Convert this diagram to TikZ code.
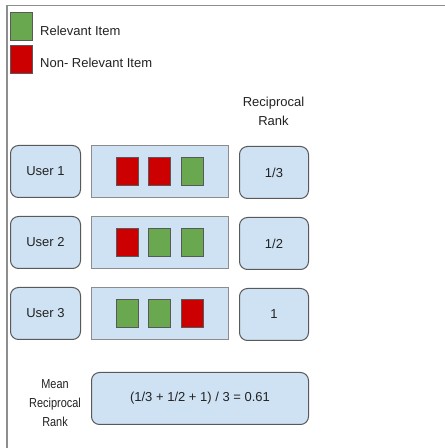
\documentclass[tikz,border=0pt]{standalone}
\usepackage{fontspec}
\setmainfont{Liberation Sans}
\definecolor{boxblue}{HTML}{CFE2F3}
\definecolor{relgreen}{HTML}{6AA84F}
\definecolor{nonred}{HTML}{CC0000}
\definecolor{edgegray}{HTML}{595959}
\definecolor{listgray}{HTML}{8C8C8C}
\definecolor{framegray}{HTML}{8E8E8E}
\definecolor{txt}{HTML}{222222}
\newcommand{\dfont}{\fontsize{13pt}{16pt}\selectfont}
\newcommand{\dfontb}{\fontsize{13pt}{19pt}\selectfont}
\begin{document}
\begin{tikzpicture}[x=1pt,y=1pt,
  userbox/.style={draw=edgegray, fill=boxblue, rounded corners=8pt, line width=1pt, minimum width=70pt, minimum height=52pt, inner sep=0pt, font=\dfont, text=txt},
  listbox/.style={draw=listgray, fill=boxblue, line width=1pt, minimum width=137pt, minimum height=52pt, inner sep=0pt},
  rankbox/.style={draw=edgegray, fill=boxblue, rounded corners=8pt, line width=1pt, minimum width=69pt, minimum height=52pt, inner sep=0pt, font=\dfont, text=txt},
  relbox/.style={draw=edgegray, fill=relgreen, line width=1pt, minimum width=22pt, minimum height=28pt, inner sep=0pt},
  nrelbox/.style={draw=edgegray, fill=nonred, line width=1pt, minimum width=22pt, minimum height=28pt, inner sep=0pt},
  lbl/.style={inner sep=0pt, font=\dfont, text=txt},
  multilbl/.style={align=center, inner sep=0pt, font=\dfontb, text=txt}
]
\useasboundingbox (0,0) rectangle (445,448);
\fill[white] (0,0) rectangle (445,448);
\draw[framegray, line width=1.5pt] (7,0) -- (7,442.5) -- (445,442.5);

% legend
\node[relbox] (lg) at (21.5,421.5) {};
\node[nrelbox] (lr) at (21.5,388.5) {};
\node[lbl, anchor=west] (lgt) at (40,417) {Relevant Item};
\node[lbl, anchor=west] (lrt) at (40,385) {Non- Relevant Item};

% header
\node[multilbl] (hdr) at (273.5,336.5) {Reciprocal\\Rank};

% row 1
\node[userbox] (u1) at (45.5,276.5) {User 1};
\node[listbox] (l1) at (160,276.5) {};
\node[nrelbox] (a1) at (127.5,276.5) {};
\node[nrelbox] (b1) at (159.5,276.5) {};
\node[relbox] (c1) at (192.5,276.5) {};
\node[rankbox] (r1) at (274,275.5) {1/3};

% row 2
\node[userbox] (u2) at (45.5,205.5) {User 2};
\node[listbox] (l2) at (160,205.5) {};
\node[nrelbox] (a2) at (127.5,205.5) {};
\node[relbox] (b2) at (159.5,205.5) {};
\node[relbox] (c2) at (192.5,205.5) {};
\node[rankbox] (r2) at (274,204.5) {1/2};

% row 3
\node[userbox] (u3) at (45.5,134.5) {User 3};
\node[listbox] (l3) at (160,134.5) {};
\node[relbox] (a3) at (127.5,134.5) {};
\node[relbox] (b3) at (159.5,134.5) {};
\node[nrelbox] (c3) at (192.5,134.5) {};
\node[rankbox] (r3) at (274,133.5) {1};

% mean
\node[multilbl, transform shape, xscale=0.84] (mt) at (55,45) {Mean\\Reciprocal\\Rank};
\node[rankbox, minimum width=217pt] (mb) at (200,49.5) {(1/3 + 1/2 + 1) / 3 = 0.61};
\end{tikzpicture}
\end{document}
